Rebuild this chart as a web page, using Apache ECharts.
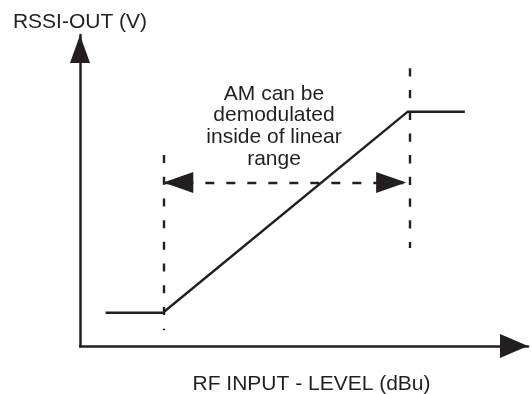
<!DOCTYPE html>
<html>
<head>
<meta charset="utf-8">
<script src="https://cdn.jsdelivr.net/npm/echarts@6/dist/echarts.min.js"></script>
<style>
  html, body { margin: 0; padding: 0; background: #fff; }
  #rssiChart { width: 531px; height: 394px; }
</style>
</head>
<body>
<div id="rssiChart"></div>
<script>
  // schematic, both axes normalised to 0..100 (no real scale shown)
  let curveX = [5.7, 18.5, 73.1, 85.9]
  let curveY = [10.7, 10.7, 75.3, 75.3]

  // dashed markers at the two knees: [x, yTop, yBottom]
  let leftKnee = [18.6, 61.4, 5.1]
  let rightKnee = [73.5, 89.3, 31.5]

  // dashed double arrow for the linear range: [xFrom, xTo, y]
  let rangeArrow = [18.6, 72.8, 52.6]

  let xName = 'RF INPUT - LEVEL (dBu)'
  let yName = 'RSSI-OUT (V)'
  let note = ['AM can be', 'demodulated', 'inside of linear', 'range']

  let ink = '#231f20'
  let font = '"Liberation Sans", Arial, Helvetica, sans-serif'

  let dom = document.getElementById('rssiChart')
  let myChart = echarts.init(dom)

  let curveData = curveX.map((x, i) => [x, curveY[i]])

  let option = {
      animation: false,
      grid: {
          left: 80,
          right: 3,
          top: 35,
          bottom: 48,
          outerBoundsMode: 'none',
          containLabel: false
      },
      xAxis: {
          type: 'value',
          min: 0,
          max: 100,
          name: xName,
          nameLocation: 'middle',
          nameGap: 28,
          nameTextStyle: {
              color: ink,
              fontSize: 21,
              fontFamily: font,
              padding: [0, 0, 0, 15]
          },
          axisLine: {
              show: true,
              symbol: ['none', 'triangle'],
              symbolSize: [24, 28],
              symbolOffset: [0, -14],
              lineStyle: { color: ink, width: 2.5 }
          },
          axisTick: { show: false },
          axisLabel: { show: false },
          splitLine: { show: false }
      },
      yAxis: {
          type: 'value',
          min: 0,
          max: 100,
          name: yName,
          nameLocation: 'end',
          nameGap: 2,
          nameTextStyle: {
              color: ink,
              fontSize: 21,
              fontFamily: font
          },
          axisLine: {
              show: true,
              symbol: ['none', 'triangle'],
              symbolSize: [20, 28],
              symbolOffset: [0, -14],
              lineStyle: { color: ink, width: 2.5 }
          },
          axisTick: { show: false },
          axisLabel: { show: false },
          splitLine: { show: false }
      },
      graphic: [
          {
              type: 'text',
              x: 274,
              y: 83,
              style: {
                  text: note.join('\n'),
                  fill: ink,
                  font: '21px ' + font,
                  lineHeight: 21.7,
                  align: 'center',
                  textAlign: 'center',
                  verticalAlign: 'top'
              }
          }
      ],
      series: [
          {
              name: 'rssi',
              type: 'line',
              data: curveData,
              symbol: 'none',
              lineStyle: { color: ink, width: 2.4 },
              z: 3,
              markLine: {
                  silent: true,
                  symbol: ['triangle', 'triangle'],
                  symbolSize: [21, 30],
                  symbolOffset: [[0, 15], [0, 15]],
                  label: { show: false },
                  lineStyle: { color: ink, width: 2.4, type: [9, 12], opacity: 1 },
                  itemStyle: { color: ink },
                  data: [
                      [
                          { coord: [leftKnee[0], leftKnee[1]], symbol: 'none', lineStyle: { type: [8, 13.7] } },
                          { coord: [leftKnee[0], leftKnee[2]], symbol: 'none' }
                      ],
                      [
                          { coord: [rightKnee[0], rightKnee[1]], symbol: 'none', lineStyle: { type: [8.3, 13.4] } },
                          { coord: [rightKnee[0], rightKnee[2]], symbol: 'none' }
                      ],
                      [
                          { coord: [rangeArrow[0], rangeArrow[2]] },
                          { coord: [rangeArrow[1], rangeArrow[2]] }
                      ]
                  ]
              }
          }
      ]
  }

  myChart.setOption(option, true)
</script>
</body>
</html>
